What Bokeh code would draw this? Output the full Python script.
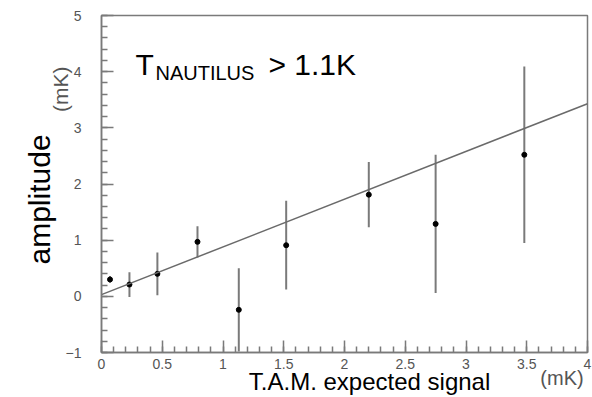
from bokeh.plotting import figure
from bokeh.models import Label, FixedTicker, Range1d, ColumnDataSource, Title, LinearAxis
from bokeh.embed import file_html
from bokeh.resources import INLINE

# --- data ---
x_vals = [0.07, 0.23, 0.46, 0.79, 1.13, 1.52, 2.20, 2.75, 3.48]
y_vals = [0.30, 0.21, 0.40, 0.97, -0.24, 0.91, 1.81, 1.29, 2.52]
y_err = [0.06, 0.22, 0.38, 0.28, 0.74, 0.79, 0.58, 1.23, 1.57]
fit_x = [0.0, 4.0]
fit_y = [0.03, 3.43]
x_ticks = [0, 0.5, 1, 1.5, 2, 2.5, 3, 3.5, 4]
y_ticks = [-1, 0, 1, 2, 3, 4, 5]
x_title = "T.A.M. expected signal"
y_title = "amplitude"
unit = "(mK)"
note_main, note_sub, note_rest = "T", "NAUTILUS", "> 1.1K"

src = ColumnDataSource(dict(
    x=x_vals, y=y_vals,
    lo=[v - e for v, e in zip(y_vals, y_err)],
    hi=[v + e for v, e in zip(y_vals, y_err)],
))

GRAY = "#7a7a7a"
LABEL_GRAY = "#555555"
F = "Liberation Sans"
p = figure(width=592, height=397, x_range=Range1d(0, 4), y_range=Range1d(-1, 5),
           output_backend="svg", toolbar_location=None,
           min_border_left=101, min_border_right=5, min_border_top=15, min_border_bottom=45)
p.xgrid.visible = False
p.ygrid.visible = False
p.outline_line_color = GRAY
p.outline_line_width = 1.5
p.background_fill_color = "white"
p.border_fill_color = "white"

for ax, ticks in ((p.xaxis[0], x_ticks), (p.yaxis[0], y_ticks)):
    step = ticks[1] - ticks[0]
    n = int(round((ticks[-1] - ticks[0]) / step * 5))
    ax.ticker = FixedTicker(ticks=ticks, minor_ticks=[ticks[0] + i * step / 5 for i in range(n + 1)])
    ax.axis_line_color = GRAY
    ax.axis_line_width = 1.5
    ax.major_tick_line_color = GRAY
    ax.minor_tick_line_color = GRAY
    ax.major_tick_line_width = 1.5
    ax.minor_tick_line_width = 1.5
    ax.major_tick_in = 12
    ax.major_tick_out = 0
    ax.minor_tick_in = 6
    ax.minor_tick_out = 0
    ax.major_label_text_font = F
    ax.major_label_text_font_size = "14px"
    ax.major_label_text_color = LABEL_GRAY
p.xaxis[0].major_label_standoff = 6
p.yaxis[0].major_label_standoff = 20


def text_axis(pos, label, size, color, standoff):
    ax = LinearAxis(ticker=FixedTicker(ticks=[pos], minor_ticks=[]),
                    major_label_overrides={pos: label},
                    axis_line_color=None, major_tick_line_color=None,
                    minor_tick_line_color=None, major_tick_in=0, major_tick_out=0,
                    major_label_standoff=standoff, major_label_text_font=F,
                    major_label_text_font_size=size, major_label_text_color=color)
    p.add_layout(ax, "below")
    return ax


# x unit "(mK)" just below the tick labels at the right end
text_axis(3.79, unit, "20px", LABEL_GRAY, -5)
# x title (cut off in the reference) kept fully visible at the bottom
text_axis(2.206, x_title, "24px", "black", -24)

# y unit and y title as side titles
p.add_layout(Title(text=unit, align="right", offset=51, standoff=-18,
                   text_font=F, text_font_size="21px", text_font_style="normal",
                   text_color=LABEL_GRAY), "left")
p.add_layout(Title(text=y_title, align="left", offset=88, standoff=-1,
                   text_font=F, text_font_size="30px", text_font_style="normal",
                   text_color="black"), "left")

# error bars, points, fit
p.segment(x0="x", y0="lo", x1="x", y1="hi", source=src, line_color=GRAY, line_width=2)
p.scatter(x="x", y="y", source=src, size=5, color="black")
p.line(fit_x, fit_y, line_color="#6a6a6a", line_width=1.5)

# annotation T_NAUTILUS > 1.1K
p.add_layout(Label(x=0.28, y=4.12, text=note_main, text_font=F, text_font_size="30px",
                   text_color="black", text_baseline="alphabetic"))
p.add_layout(Label(x=0.444, y=3.975, text=note_sub, text_font=F, text_font_size="20px",
                   text_color="black", text_baseline="alphabetic"))
p.add_layout(Label(x=1.374, y=4.12, text=note_rest, text_font=F, text_font_size="30px",
                   text_color="black", text_baseline="alphabetic"))

open("out.html", "w").write(file_html(p, INLINE))
